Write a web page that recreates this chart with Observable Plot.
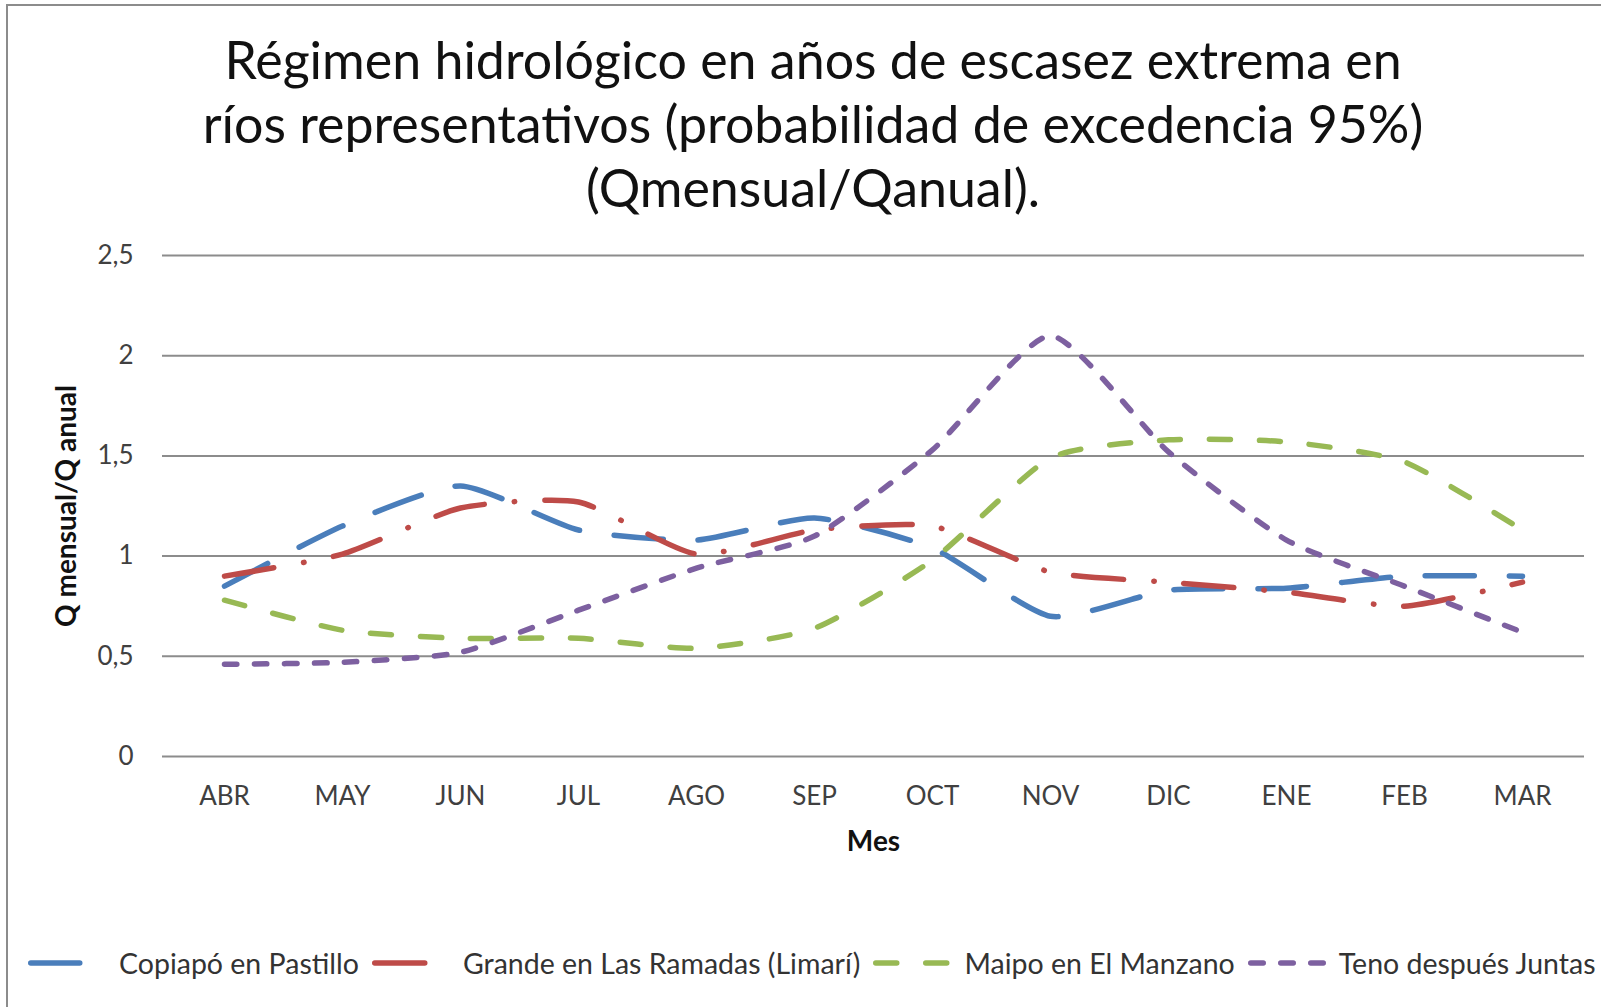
<!DOCTYPE html>
<html>
<head>
<meta charset="utf-8">
<script src="https://cdn.jsdelivr.net/npm/d3@7"></script>
<script src="https://cdn.jsdelivr.net/npm/@observablehq/plot@0.6"></script>
<style>
  html, body { margin: 0; padding: 0; background: #fff; }
  body { width: 1601px; height: 1007px; overflow: hidden; position: relative; font-family: Lato, "Open Sans", sans-serif; }
  #frame { position: absolute; left: 6px; top: 4px; width: 1700px; height: 1100px; border-left: 2px solid #8c8c8c; border-top: 2px solid #8c8c8c; }
  #title { position: absolute; left: 0; top: 27px; width: 1626px; text-align: center; color: #111; line-height: 64px; font-size: 46px; white-space: nowrap; }
  #title div { display: block; }
  #title span { display: inline-block; }
  #chart { position: absolute; left: 0; top: 230px; }
  #legend { position: absolute; left: 28px; top: 948px; height: 30px; display: flex; align-items: center; white-space: nowrap; color: #333; font-size: 26px; }
  #legend .item { display: flex; align-items: center; }
  #legend svg { margin-right: 11px; }
  #legend .lab { margin-right: 13px; }
</style>
</head>
<body>
<div id="frame"></div>
<div id="title"></div>
<div id="chart"></div>
<div id="legend"></div>
<script>
// ---- Data ----
const titleLines = [
  "Régimen hidrológico en años de escasez extrema en",
  "ríos representativos (probabilidad de excedencia 95%)",
  "(Qmensual/Qanual)."
];
const months = ["ABR", "MAY", "JUN", "JUL", "AGO", "SEP", "OCT", "NOV", "DIC", "ENE", "FEB", "MAR"];
const seriesNames = ["Copiapó en Pastillo", "Grande en Las Ramadas (Limarí)", "Maipo en El Manzano", "Teno después Juntas"];
const copiapo = [0.85, 1.15, 1.35, 1.13, 1.08, 1.19, 1.04, 0.70, 0.83, 0.84, 0.90, 0.90];
const grande  = [0.90, 1.01, 1.24, 1.27, 1.01, 1.13, 1.15, 0.92, 0.87, 0.82, 0.75, 0.87];
const maipo   = [0.78, 0.63, 0.59, 0.59, 0.54, 0.64, 0.98, 1.49, 1.58, 1.57, 1.47, 1.13];
const teno    = [0.46, 0.47, 0.52, 0.73, 0.94, 1.10, 1.53, 2.10, 1.52, 1.08, 0.85, 0.62];
const yTicks  = [0, 0.5, 1, 1.5, 2, 2.5];
const xLabel = "Mes";
const yLabel = "Q mensual/Q anual";

// ---- Styles ----
const colors = ["#4A7EBB", "#BE4B48", "#98B954", "#7D60A0"];
const dashes = ["49 35", "50 30 0.5 30", "21 29", "12.5 17.5"];
const valuesList = [copiapo, grande, maipo, teno];

// ---- Title (fit line 2 to the reference width) ----
const titleEl = document.getElementById("title");
const spans = titleLines.map(t => {
  const d = document.createElement("div");
  const s = document.createElement("span");
  s.textContent = t;
  d.appendChild(s);
  titleEl.appendChild(d);
  return s;
});
const w2 = spans[1].getBoundingClientRect().width;
titleEl.style.fontSize = (46 * 1221 / w2).toFixed(2) + "px";

// ---- Chart ----
const rows = valuesList.map((vals, k) => months.map((m, i) => ({month: m, value: vals[i], series: seriesNames[k]})));

const chart = Plot.plot({
  width: 1601,
  height: 646,
  marginLeft: 162,
  marginRight: 17,
  marginTop: 25,
  marginBottom: 120,
  style: {fontFamily: "Lato, 'Open Sans', sans-serif", fontSize: "26px", color: "#404040", background: "transparent", overflow: "visible"},
  x: {type: "point", domain: months, padding: 0.5},
  y: {domain: [0, 2.5]},
  marks: [
    Plot.ruleY(yTicks, {stroke: "#8c8c8c", strokeWidth: 2}),
    ...rows.map((r, k) => Plot.line(r, {
      x: "month", y: "value",
      stroke: colors[k], strokeWidth: 5.5,
      strokeDasharray: dashes[k], strokeLinecap: "round", strokeLinejoin: "round",
      curve: "cardinal", tension: 0.4
    })),
    Plot.axisX({tickSize: 0, tickPadding: 30, label: xLabel, labelAnchor: "center", labelArrow: "none", labelOffset: 94}),
    Plot.axisY({ticks: yTicks, tickSize: 0, tickPadding: 29, tickFormat: d => String(d).replace(".", ","),
      label: yLabel, labelAnchor: "center", labelArrow: "none", labelOffset: 106})
  ]
});
document.getElementById("chart").appendChild(chart);
d3.select(chart).selectAll('g[aria-label="x-axis label"] text, g[aria-label="y-axis label"] text')
  .attr("font-weight", "bold").attr("fill", "#111").attr("font-size", 28);
d3.select(chart).selectAll('g[aria-label="x-axis label"], g[aria-label="y-axis label"]')
  .attr("font-size", 28);

// ---- Legend ----
const legend = d3.select("#legend");
seriesNames.forEach((name, k) => {
  const it = legend.append("div").attr("class", "item");
  const svg = it.append("svg").attr("width", 80).attr("height", 10);
  svg.append("line").attr("x1", 2.75).attr("x2", 77.25).attr("y1", 5).attr("y2", 5)
    .attr("stroke", colors[k]).attr("stroke-width", 5.5)
    .attr("stroke-dasharray", dashes[k]).attr("stroke-linecap", "round");
  it.append("span").attr("class", "lab").text(name);
});
const firstLab = document.querySelector("#legend .lab");
const lw = firstLab.getBoundingClientRect().width;
document.getElementById("legend").style.fontSize = (26 * 240 / lw).toFixed(2) + "px";
</script>
</body>
</html>
